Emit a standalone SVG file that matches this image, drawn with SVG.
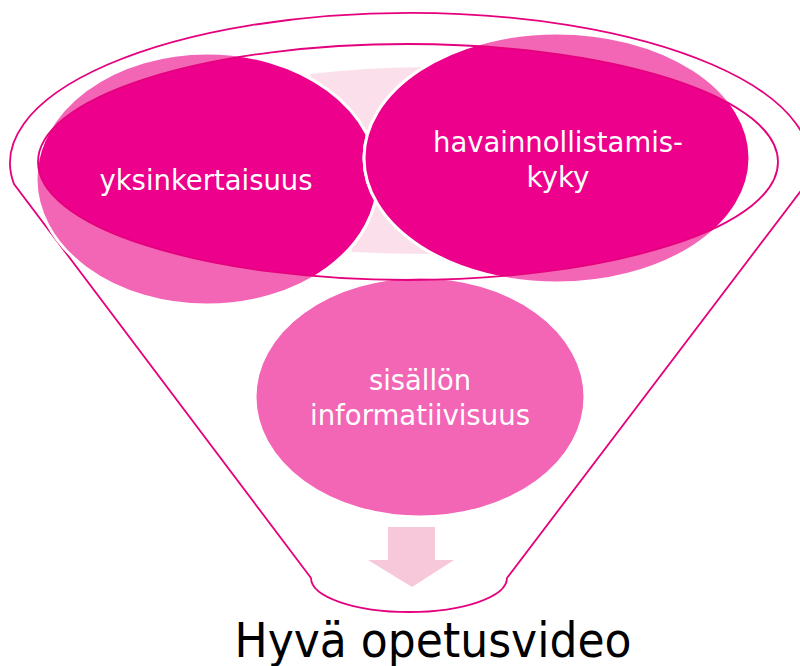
<svg xmlns="http://www.w3.org/2000/svg" width="800" height="666" viewBox="0 0 800 666">
<style>
.outline{fill:none;stroke:#E5007D;stroke-width:1.8}
.light{fill:#F366B6;stroke:#FFFFFF;stroke-width:3}
.dark{fill:#EC008C;stroke:#FFFFFF;stroke-width:3}
.lbl{font-family:"DejaVu Sans","Liberation Sans",sans-serif;font-size:29px;fill:#FFFFFF;text-anchor:middle}
.title{font-family:"DejaVu Sans","Liberation Sans",sans-serif;font-size:48px;fill:#000000;text-anchor:middle}
</style>
<defs>
<clipPath id="rim"><ellipse cx="408" cy="162" rx="370" ry="118"/></clipPath>
</defs>
<rect width="800" height="666" fill="#FFFFFF"/>
<g id="funnel">
<path class="outline" d="M14,184 A400,150 0 1 1 806,184 L507,578 A98,34 0 0 1 311,578 Z"/>
</g>
<g id="band">
<path d="M310,74 Q370,67 432,67 L432,254 Q392,254 352,252 Z" fill="#FBE0EB"/>
</g>
<g id="node-yksinkertaisuus">
<ellipse class="light" cx="207" cy="179" rx="171" ry="126"/>
<ellipse class="dark" cx="207" cy="179" rx="171" ry="126" clip-path="url(#rim)"/>
<text class="lbl" x="206" y="190" textLength="213" lengthAdjust="spacingAndGlyphs">yksinkertaisuus</text>
</g>
<g id="node-havainnollistamiskyky">
<ellipse class="light" cx="557" cy="158" rx="193" ry="125"/>
<ellipse class="dark" cx="557" cy="158" rx="193" ry="125" clip-path="url(#rim)"/>
<text class="lbl" x="558" y="152" textLength="250" lengthAdjust="spacingAndGlyphs">havainnollistamis-</text>
<text class="lbl" x="558" y="187" textLength="63" lengthAdjust="spacingAndGlyphs">kyky</text>
</g>
<g id="node-sisallon">
<ellipse class="light" cx="420" cy="397" rx="165" ry="120" stroke="none"/>
<text class="lbl" x="420" y="390" textLength="102" lengthAdjust="spacingAndGlyphs">sisällön</text>
<text class="lbl" x="420" y="425" textLength="220" lengthAdjust="spacingAndGlyphs">informatiivisuus</text>
</g>
<g id="rim-line">
<ellipse class="outline" cx="408" cy="162" rx="370" ry="118"/>
</g>
<g id="connectors">
<path d="M388,527 L435,527 L435,560 L454,560 L412,587 L368,560 L388,560 Z" fill="#F7C7DA"/>
</g>
<g id="result">
<text class="title" x="433" y="657" textLength="397" lengthAdjust="spacingAndGlyphs">Hyvä opetusvideo</text>
</g>
</svg>
